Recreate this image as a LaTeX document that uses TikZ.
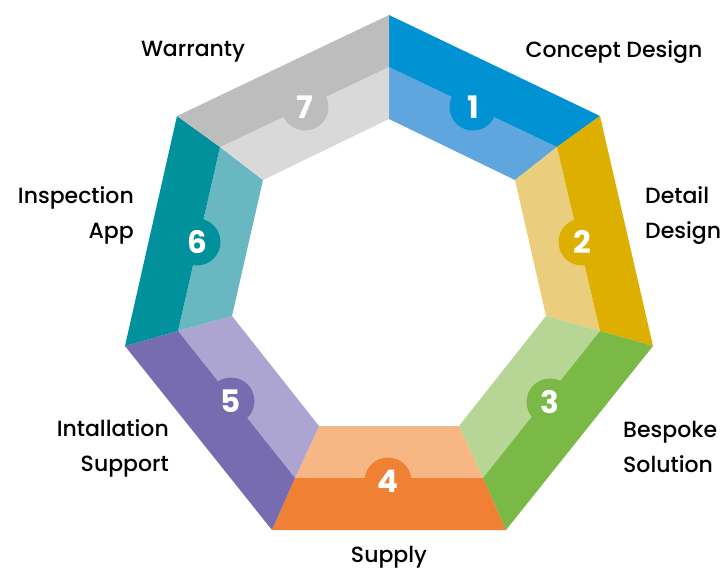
\documentclass[tikz,border=0pt]{standalone}
\usepackage{fontspec}
\setmainfont{Poppins}
\newfontfamily\lblfont{Poppins Medium}
\definecolor{cA}{HTML}{0092D2}\definecolor{lA}{HTML}{5FA5DE}
\definecolor{cB}{HTML}{DDAF00}\definecolor{lB}{HTML}{EACE7E}
\definecolor{cC}{HTML}{7AB946}\definecolor{lC}{HTML}{B7D695}
\definecolor{cD}{HTML}{F08033}\definecolor{lD}{HTML}{F7B785}
\definecolor{cE}{HTML}{786CB0}\definecolor{lE}{HTML}{ADA5D1}
\definecolor{cF}{HTML}{00919D}\definecolor{lF}{HTML}{69B7C0}
\definecolor{cG}{HTML}{BDBDBD}\definecolor{lG}{HTML}{D9D9D9}
\tikzset{
  x=1pt,y=-1pt,
  numdisc/.style={circle,minimum size=47pt,inner sep=0pt,text=white,font=\fontsize{31}{31}\selectfont\bfseries},
  lbl/.style={text=black,font=\fontsize{22}{35}\selectfont\lblfont,inner sep=0pt}
}
\begin{document}
\begin{tikzpicture}
\useasboundingbox (0,0) rectangle (724,570);
\coordinate (o1) at (389,15); \coordinate (o2) at (600,116); \coordinate (o3) at (653,346);
\coordinate (o4) at (506,530); \coordinate (o5) at (272,530); \coordinate (o6) at (125,346); \coordinate (o7) at (177,116);
\coordinate (m1) at (389,67); \coordinate (m2) at (557,147); \coordinate (m3) at (600,331);
\coordinate (m4) at (483,478); \coordinate (m5) at (295,478); \coordinate (m6) at (178,331); \coordinate (m7) at (220,147);
\coordinate (i1) at (389,119); \coordinate (i2) at (515,180); \coordinate (i3) at (546,316);
\coordinate (i4) at (459,426); \coordinate (i5) at (319,426); \coordinate (i6) at (232,316); \coordinate (i7) at (263,180);
\fill[lA] (m1)--(m2)--(i2)--(i1)--cycle; \fill[cA] (o1)--(o2)--(m2)--(m1)--cycle;
\fill[lB] (m2)--(m3)--(i3)--(i2)--cycle; \fill[cB] (o2)--(o3)--(m3)--(m2)--cycle;
\fill[lC] (m3)--(m4)--(i4)--(i3)--cycle; \fill[cC] (o3)--(o4)--(m4)--(m3)--cycle;
\fill[lD] (m4)--(m5)--(i5)--(i4)--cycle; \fill[cD] (o4)--(o5)--(m5)--(m4)--cycle;
\fill[lE] (m5)--(m6)--(i6)--(i5)--cycle; \fill[cE] (o5)--(o6)--(m6)--(m5)--cycle;
\fill[lF] (m6)--(m7)--(i7)--(i6)--cycle; \fill[cF] (o6)--(o7)--(m7)--(m6)--cycle;
\fill[lG] (m7)--(m1)--(i1)--(i7)--cycle; \fill[cG] (o7)--(o1)--(m1)--(m7)--cycle;
\node[numdisc,fill=cA] (n1) at (473,107) {1};
\node[numdisc,fill=cB] (n2) at (582,242) {2};
\node[numdisc,fill=cC] (n3) at (550,402) {3};
\node[numdisc,fill=cD] (n4) at (388,481) {4};
\node[numdisc,fill=cE] (n5) at (231,401) {5};
\node[numdisc,fill=cF] (n6) at (197,242) {6};
\node[numdisc,fill=cG] (n7) at (305,107) {7};
\node[lbl,anchor=center] (t1) at (614,52) {Concept Design};
\node[lbl,align=left,anchor=west] (t2) at (645,216) {Detail\\Design};
\node[lbl,align=left,anchor=west] (t3) at (623,447) {Bespoke\\Solution};
\node[lbl,anchor=center] (t4) at (389,557) {Supply};
\node[lbl,align=right,anchor=east] (t5) at (169,448) {Intallation\\Support};
\node[lbl,align=right,anchor=east] (t6) at (134,215) {Inspection\\App};
\node[lbl,anchor=center] (t7) at (193,52) {Warranty};
\end{tikzpicture}
\end{document}
